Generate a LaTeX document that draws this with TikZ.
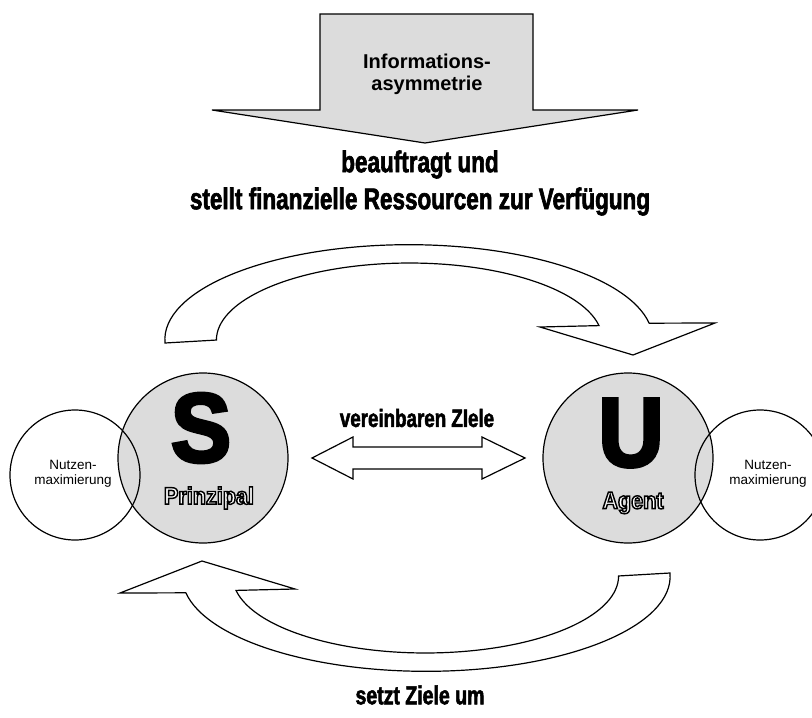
\documentclass[tikz,border=0pt]{standalone}
\usepackage{fontspec}
\usetikzlibrary{calc}
\setmainfont{Liberation Sans}
\newfontfamily\condfont{Liberation Sans}[FakeStretch=0.75,BoldFeatures={FakeBold=2}]
\newfontfamily\heavyfont{Liberation Sans}[FakeStretch=0.92,BoldFeatures={FakeBold=3.5}]
\newfontfamily\rimfont{Liberation Sans}[FakeStretch=0.9,BoldFeatures={FakeBold=6}]
\definecolor{shade}{RGB}{220,220,220}

% outline of a curved block arrow (tail at the left, head at the right)
\newcommand\curvedarrowpath{%
  (165,343) arc[start angle=178, end angle=350, x radius=244, y radius=95]
  -- (715,323) -- (633,355) -- (540,327) -- (599,325.6)
  arc[start angle=349.2, end angle=180, x radius=193, y radius=77]
  -- cycle}
% white glyphs whose stroked rim stays black
\newcommand\rimtext[1]{{\rimfont\bfseries\special{pdf:literal direct 1 g}#1}}

\begin{document}
\begin{tikzpicture}[x=1pt,y=-1pt]
\useasboundingbox (0,0) rectangle (812,718);
\tikzset{
  outlinebox/.style={draw=black, line width=1.2pt, line join=miter},
  bigcircle/.style={circle, draw=black, line width=1.2pt, fill=shade, minimum size=170pt, inner sep=0pt},
  smallcircle/.style={circle, draw=black, line width=1.2pt, minimum size=130pt, inner sep=0pt},
  condlabel/.style={font=\condfont\bfseries\fontsize{30}{37}\selectfont, align=center, inner sep=0pt},
  midlabel/.style={font=\condfont\bfseries\fontsize{25}{30}\selectfont, inner sep=0pt},
  bigletter/.style={font=\heavyfont\bfseries\fontsize{98}{98}\selectfont, inner sep=0pt},
  rolelabel/.style={font=\fontsize{24}{24}\selectfont, text=black, inner sep=0pt},
  smalltext/.style={font=\fontsize{13.5}{15.5}\selectfont, align=center, inner sep=0pt}
}

% downward block arrow at the top
\draw[outlinebox, fill=shade] (320,14) -- (533,14) -- (533,110) -- (638,110)
  -- (425,143) -- (212,110) -- (320,110) -- cycle;
\node[font=\bfseries\fontsize{20}{22}\selectfont, align=center] (info) at (427,74)
  {Informations-\\asymmetrie};

\node[condlabel] (top) at (420,183) {beauftragt und\\stellt finanzielle Ressourcen zur Verfügung};

% the two curved arrows
\draw[outlinebox, fill=white] \curvedarrowpath;
\draw[outlinebox, fill=white, rotate around={180:(417.5,458)}] \curvedarrowpath;

% principal and agent
\node[bigcircle] (S) at (203,458) {};
\node[bigcircle] (U) at (628,458) {};
\node[bigletter] (Sl) at (201,428) {S};
\node[bigletter] (Ul) at (631,433) {U};
\node[rolelabel] (P) at (209,498) {\rimtext{Prinzipal}};
\node[rolelabel] (A) at (633,503) {\rimtext{Agent}};

% double arrow between the parties
\draw[outlinebox, fill=white] (312,458) -- (353,437) -- (353,447) -- (482,447)
  -- (482,437) -- (525,458) -- (482,479) -- (482,469) -- (353,469)
  -- (353,479) -- cycle;
\node[midlabel] (goals) at (417,418) {vereinbaren ZIele};

% utility circles
\node[smallcircle] (NL) at (75,475) {};
\node[smallcircle] (NR) at (760,475) {};
\node[smalltext] (tl) at (73,474) {Nutzen-\\maximierung};
\node[smalltext] (tr) at (768,474) {Nutzen-\\maximierung};

\node[midlabel, font=\condfont\bfseries\fontsize{26}{30}\selectfont] (bottom) at (420,695) {setzt Ziele um};
\end{tikzpicture}
\end{document}
